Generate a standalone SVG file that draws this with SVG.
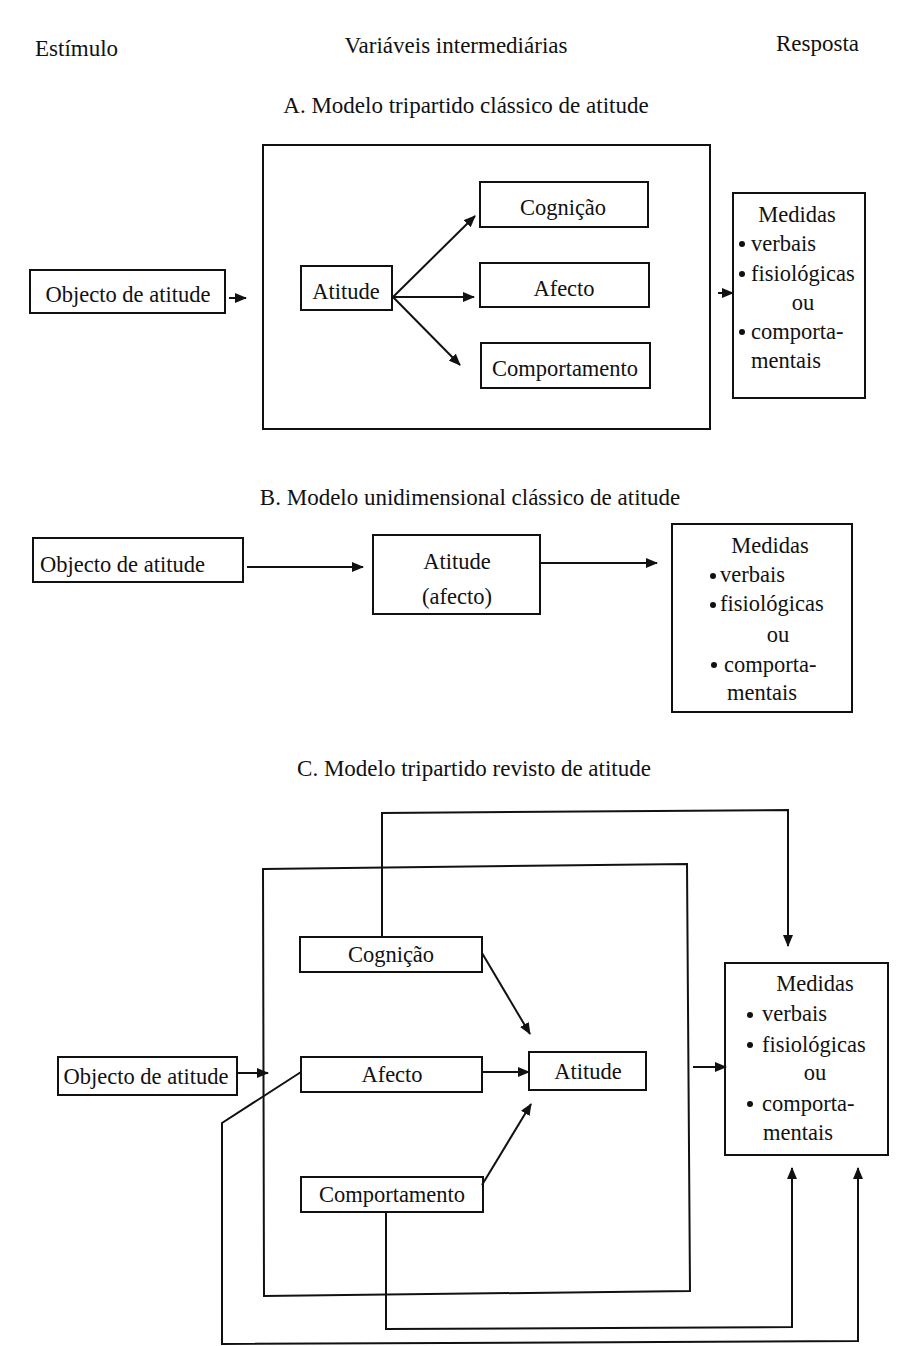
<svg xmlns="http://www.w3.org/2000/svg" width="914" height="1346" viewBox="0 0 914 1346">
<defs>
<marker id="arr" viewBox="0 0 12 10" refX="11" refY="5" markerWidth="12" markerHeight="10" markerUnits="userSpaceOnUse" orient="auto">
<path d="M0,0 L12,5 L0,10 z" fill="#111"/>
</marker>
<style>
.box{fill:#fff;stroke:#111;stroke-width:2}
.frame{fill:none;stroke:#111;stroke-width:2}
.ln{fill:none;stroke:#111;stroke-width:2}
.ar{fill:none;stroke:#111;stroke-width:2;marker-end:url(#arr)}
text{font-family:"Liberation Serif","DejaVu Serif",serif;fill:#111}
.t{font-size:22.5px}
.h{font-size:23px}
.c{text-anchor:middle}
.dot{fill:#111}
</style>
</defs>
<rect width="914" height="1346" fill="#fff"/>

<g id="headers">
<text class="h" x="35" y="56">Estímulo</text>
<text class="h c" x="456" y="53">Variáveis intermediárias</text>
<text class="h" x="776" y="51">Resposta</text>
<text class="h c" x="466" y="113">A. Modelo tripartido clássico de atitude</text>
<text class="h c" x="470" y="505">B. Modelo unidimensional clássico de atitude</text>
<text class="h c" x="474" y="776">C. Modelo tripartido revisto de atitude</text>
</g>

<!-- Section A -->
<g id="A-frame"><rect class="frame" x="263" y="145" width="447" height="284"/></g>
<g id="A-objecto"><rect class="box" x="30" y="270" width="195" height="43"/><text class="t c" x="128" y="302">Objecto de atitude</text></g>
<g id="A-atitude"><rect class="box" x="301" y="266" width="91" height="44"/><text class="t c" x="346" y="299">Atitude</text></g>
<g id="A-cognicao"><rect class="box" x="480" y="182" width="168" height="45"/><text class="t c" x="563" y="215">Cognição</text></g>
<g id="A-afecto"><rect class="box" x="480" y="263" width="169" height="44"/><text class="t c" x="564" y="296">Afecto</text></g>
<g id="A-comportamento"><rect class="box" x="481" y="343" width="169" height="45"/><text class="t c" x="565" y="376">Comportamento</text></g>
<g id="A-medidas"><rect class="box" x="733" y="193" width="132" height="205"/>
<text class="t c" x="797" y="222">Medidas</text>
<circle class="dot" cx="742" cy="244" r="3"/><text class="t" x="751" y="251">verbais</text>
<circle class="dot" cx="742" cy="274" r="3"/><text class="t" x="751" y="281">fisiológicas</text>
<text class="t c" x="803" y="310">ou</text>
<circle class="dot" cx="742" cy="332" r="3"/><text class="t" x="751" y="339">comporta-</text>
<text class="t" x="751" y="368">mentais</text>
</g>

<!-- Section B -->
<g id="B-objecto"><rect class="box" x="33" y="538" width="210" height="44"/><text class="t" x="40" y="572">Objecto de atitude</text></g>
<g id="B-atitude"><rect class="box" x="373" y="535" width="167" height="79"/><text class="t c" x="457" y="569">Atitude</text><text class="t c" x="457" y="604">(afecto)</text></g>
<g id="B-medidas"><rect class="box" x="672" y="524" width="180" height="188"/>
<text class="t c" x="770" y="553">Medidas</text>
<circle class="dot" cx="713" cy="576" r="3"/><text class="t" x="720" y="582">verbais</text>
<circle class="dot" cx="713" cy="605" r="3"/><text class="t" x="720" y="611">fisiológicas</text>
<text class="t c" x="778" y="642">ou</text>
<circle class="dot" cx="714" cy="665" r="3"/><text class="t" x="724" y="672">comporta-</text>
<text class="t" x="727" y="700">mentais</text>
</g>

<!-- Section C -->
<g id="C-frame"><path class="frame" d="M263,869 L687,864 L690,1291 L264,1296 Z"/></g>
<g id="C-cognicao"><rect class="box" x="300" y="937" width="182" height="35"/><text class="t c" x="391" y="962">Cognição</text></g>
<g id="C-afecto"><rect class="box" x="301" y="1057" width="181" height="35"/><text class="t c" x="392" y="1082">Afecto</text></g>
<g id="C-objecto"><rect class="box" x="58" y="1057" width="179" height="38"/><text class="t c" x="146" y="1084">Objecto de atitude</text></g>
<g id="C-atitude"><rect class="box" x="529" y="1052" width="117" height="38"/><text class="t c" x="588" y="1079">Atitude</text></g>
<g id="C-comportamento"><rect class="box" x="301" y="1177" width="182" height="35"/><text class="t c" x="392" y="1202">Comportamento</text></g>
<g id="C-medidas"><rect class="box" x="725" y="963" width="163" height="192"/>
<text class="t c" x="815" y="991">Medidas</text>
<circle class="dot" cx="750" cy="1015" r="3"/><text class="t" x="762" y="1021">verbais</text>
<circle class="dot" cx="750" cy="1045" r="3"/><text class="t" x="762" y="1052">fisiológicas</text>
<text class="t c" x="815" y="1080">ou</text>
<circle class="dot" cx="750" cy="1104" r="3"/><text class="t" x="762" y="1111">comporta-</text>
<text class="t" x="763" y="1140">mentais</text>
</g>

<g id="connectors">
<!-- A -->
<line class="ar" x1="229" y1="298" x2="246" y2="298"/>
<line class="ar" x1="393" y1="297" x2="475" y2="216"/>
<line class="ar" x1="393" y1="297" x2="474" y2="297"/>
<line class="ar" x1="393" y1="297" x2="460" y2="365"/>
<line class="ar" x1="718" y1="293" x2="733" y2="293"/>
<!-- B -->
<line class="ar" x1="247" y1="567" x2="363" y2="567"/>
<line class="ar" x1="541" y1="563" x2="657" y2="563"/>
<!-- C -->
<path class="ar" d="M382,937 L382,813 L788,810 L788,946"/>
<line class="ar" x1="237" y1="1073" x2="268" y2="1073"/>
<line class="ar" x1="482" y1="953" x2="530" y2="1034"/>
<line class="ar" x1="482" y1="1072" x2="529" y2="1072"/>
<line class="ar" x1="482" y1="1185" x2="531" y2="1104"/>
<line class="ar" x1="693" y1="1067" x2="726" y2="1067"/>
<path class="ar" d="M386,1212 L386,1329 L792,1327 L792,1168"/>
<path class="ar" d="M301,1072 L222,1123 L222,1344 L858,1341 L858,1168"/>
</g>
</svg>
